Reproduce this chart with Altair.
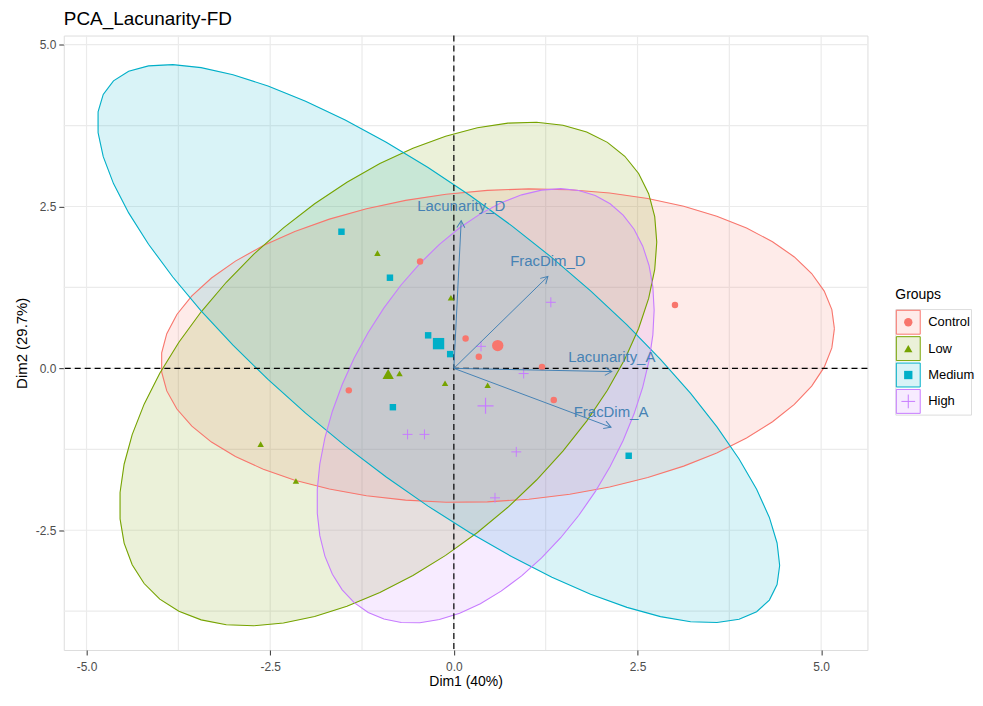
import numpy as np
import pandas as pd
import altair as alt

FONT = "Liberation Sans"

# ---------------- data ----------------
groups = ["Control", "Low", "Medium", "High"]
colors = ["#F8766D", "#76A300", "#00AFC8", "#C77CFF"]
shapes = ["circle", "triangle-up", "square", "M-1,0L1,0M0,-1L0,1"]

control_x = [-0.46, 0.16, 0.34, -1.43, 1.20, 1.36, 3.01]
control_y = [1.65, 0.46, 0.18, -0.34, 0.02, -0.49, 0.98]
low_x = [-1.04, -0.04, -0.74, -0.12, 0.46, -2.63, -2.15]
low_y = [1.78, 1.09, -0.08, -0.23, -0.26, -1.17, -1.74]
medium_x = [-1.53, -0.87, -0.35, -0.05, -0.83, 2.38]
medium_y = [2.11, 1.40, 0.51, 0.22, -0.60, -1.35]
high_x = [1.32, 0.37, 0.95, -0.63, -0.40, 0.85, 0.56]
high_y = [1.02, 0.34, -0.08, -1.02, -1.02, -1.29, -2.00]

var_names = ["Lacunarity_D", "FracDim_D", "Lacunarity_A", "FracDim_A"]
var_x = [0.10, 1.28, 2.15, 2.14]
var_y = [2.28, 1.42, -0.05, -0.91]

x_ticks = [-5.0, -2.5, 0.0, 2.5, 5.0]
y_ticks = [-2.5, 0.0, 2.5, 5.0]
x_grid = [-5.0, -3.75, -2.5, -1.25, 0.0, 1.25, 2.5, 3.75, 5.0]
y_grid = [-3.75, -2.5, -1.25, 0.0, 1.25, 2.5, 3.75, 5.0]
x_domain = [-5.31, 5.63]
y_domain = [-4.35, 5.14]

W, H = 807, 617
ELLIPSE_LEVEL = 0.95
FILL_ALPHA = 0.15

# ---------------- derived tables ----------------
group_xy = {
    "Control": (control_x, control_y),
    "Low": (low_x, low_y),
    "Medium": (medium_x, medium_y),
    "High": (high_x, high_y),
}

pts = pd.concat(
    [pd.DataFrame({"group": g, "x": xs, "y": ys}) for g, (xs, ys) in group_xy.items()],
    ignore_index=True,
)
means = pts.groupby("group", as_index=False)[["x", "y"]].mean()

outline_rows, fill_rows = [], []
for g, (xs, ys) in group_xy.items():
    P = np.column_stack([xs, ys])
    n = len(P)
    c = P.mean(axis=0)
    S = np.cov(P.T)
    dfd = n - 1
    fq = (dfd / 2.0) * ((1 - ELLIPSE_LEVEL) ** (-2.0 / dfd) - 1)  # qf(level, 2, n-1)
    r = np.sqrt(2 * fq)
    R = np.linalg.cholesky(S).T
    t = np.linspace(0, 2 * np.pi, 52)
    E = c + r * np.column_stack([np.cos(t), np.sin(t)]) @ R
    for i, (ex, ey) in enumerate(E):
        outline_rows.append({"group": g, "i": i, "x": ex, "y": ey})
    Si = np.linalg.inv(S)
    A, B, C = Si[0, 0], Si[0, 1], Si[1, 1]
    half = r * np.sqrt(S[0, 0])
    dx = half * np.cos(np.linspace(np.pi, 0, 160))
    disc = np.clip(B * B * dx * dx - C * (A * dx * dx - r * r), 0, None)
    up = (-B * dx + np.sqrt(disc)) / C
    lo = (-B * dx - np.sqrt(disc)) / C
    for a, u, l in zip(dx, up, lo):
        fill_rows.append({"group": g, "x": c[0] + a, "y_hi": c[1] + u, "y_lo": c[1] + l})

outline = pd.DataFrame(outline_rows)
fills = pd.DataFrame(fill_rows)
vars_df = pd.DataFrame({"name": var_names, "x": var_x, "y": var_y})

sx = W / (x_domain[1] - x_domain[0])
sy = H / (y_domain[1] - y_domain[0])

# ---------------- scales / axes ----------------
xscale = alt.Scale(domain=x_domain, nice=False, zero=False)
yscale = alt.Scale(domain=y_domain, nice=False, zero=False)
minus_fix = "replace(format(datum.value, '.1f'), '\u2212', '-')"
xaxis = alt.Axis(values=x_ticks, labelExpr=minus_fix, grid=False, domain=False,
                 tickSize=5, tickColor="#333333", labelColor="#4D4D4D", labelFontSize=12,
                 labelPadding=7, title="Dim1 (40%)", titleFontSize=14, titlePadding=2,
                 titleFontWeight="normal", titleColor="#000000", labelFont=FONT, titleFont=FONT)
yaxis = alt.Axis(values=y_ticks, labelExpr=minus_fix, grid=False, domain=False,
                 tickSize=5, tickColor="#333333", labelColor="#4D4D4D", labelFontSize=12,
                 labelPadding=3, title="Dim2 (29.7%)", titleFontSize=15, titlePadding=6,
                 titleFontWeight="normal", titleColor="#000000", labelFont=FONT, titleFont=FONT)


def X(f):
    return alt.X(f, type="quantitative", scale=xscale, axis=xaxis)


def Y(f):
    return alt.Y(f, type="quantitative", scale=yscale, axis=yaxis)


cscale = alt.Scale(domain=groups, range=colors)
shscale = alt.Scale(domain=groups, range=shapes)
col = alt.Color("group:N", scale=cscale, legend=None)
shp = alt.Shape("group:N", scale=shscale, legend=None)

grid_x = alt.Chart(pd.DataFrame({"v": x_grid})).mark_rule(color="#EBEBEB", strokeWidth=1.2).encode(x=X("v"))
grid_y = alt.Chart(pd.DataFrame({"v": y_grid})).mark_rule(color="#EBEBEB", strokeWidth=1.2).encode(y=Y("v"))

areas = alt.Chart(fills).mark_area(fillOpacity=FILL_ALPHA, strokeWidth=0).encode(
    x=X("x"), y=Y("y_hi"), y2="y_lo:Q", color=col, detail="group:N")
lines = alt.Chart(outline).mark_line(strokeWidth=1.1).encode(
    x=X("x"), y=Y("y"), color=col, detail="group:N", order="i:Q")

zero = pd.DataFrame({"v": [0.0]})
zero_x = alt.Chart(zero).mark_rule(color="black", strokeWidth=1.2, strokeDash=[6, 4]).encode(x=X("v"))
zero_y = alt.Chart(zero).mark_rule(color="black", strokeWidth=1.2, strokeDash=[6, 4]).encode(y=Y("v"))

pts_f = alt.Chart(pts).transform_filter(alt.datum.group != "High").mark_point(
    filled=True, opacity=1, size=42).encode(x=X("x"), y=Y("y"), color=col, shape=shp)
pts_c = alt.Chart(pts).transform_filter(alt.datum.group == "High").mark_point(
    filled=False, opacity=1, size=100, strokeWidth=1).encode(x=X("x"), y=Y("y"), color=col, shape=shp)
mean_f = alt.Chart(means).transform_filter(alt.datum.group != "High").mark_point(
    filled=True, opacity=1, size=130).encode(x=X("x"), y=Y("y"), color=col, shape=shp)
mean_c = alt.Chart(means).transform_filter(alt.datum.group == "High").mark_point(
    filled=False, opacity=1, size=260, strokeWidth=1.2).encode(x=X("x"), y=Y("y"), color=col, shape=shp)

arrows = alt.Chart(vars_df).transform_calculate(x0="0", y0="0").mark_rule(
    color="#4682B4", strokeWidth=1).encode(x=X("x0"), y=Y("y0"), x2="x:Q", y2="y:Q")
heads = alt.Chart(vars_df).transform_calculate(
    ang=f"(atan2(datum.x*{sx}, datum.y*{sy})*180/PI + 360) % 360"
).mark_point(shape="M-0.5,0.866L0,0L0.5,0.866", filled=False, color="#4682B4",
             size=256, strokeWidth=1, opacity=1).encode(
    x=X("x"), y=Y("y"), angle=alt.Angle("ang:Q", scale=None))
labels = alt.Chart(vars_df).mark_text(dy=-15, baseline="middle", fontSize=15, font=FONT,
                                      color="#4682B4").encode(x=X("x"), y=Y("y"), text="name:N")

main = alt.layer(grid_x, grid_y, areas, lines, zero_x, zero_y, pts_f, pts_c, mean_f, mean_c,
                 arrows, heads, labels).properties(
    width=W, height=H,
    title=alt.Title("PCA_Lacunarity-FD", anchor="start", frame="group", fontSize=19,
                    font=FONT, fontWeight="normal", color="#000000", offset=6))

# ---------------- custom legend ----------------
leg_df = pd.DataFrame({"group": groups})
ly = alt.Y("group:N", sort=groups, axis=None, scale=alt.Scale(domain=groups))
box = alt.Chart(leg_df).mark_square(size=576, fillOpacity=FILL_ALPHA, strokeWidth=1, strokeOpacity=1).encode(
    x=alt.value(13), y=ly,
    fill=alt.Fill("group:N", scale=cscale, legend=None),
    stroke=alt.Stroke("group:N", scale=cscale, legend=None))
sym_f = alt.Chart(leg_df).transform_filter(alt.datum.group != "High").mark_point(
    filled=True, opacity=1, size=70).encode(x=alt.value(13), y=ly, color=col, shape=shp)
sym_c = alt.Chart(leg_df).transform_filter(alt.datum.group == "High").mark_point(
    filled=False, opacity=1, size=190, strokeWidth=1).encode(x=alt.value(13), y=ly, color=col, shape=shp)
txt = alt.Chart(leg_df).mark_text(align="left", baseline="middle", fontSize=13, font=FONT,
                                  color="#000000").encode(x=alt.value(33), y=ly, text="group:N")
legend = alt.layer(box, sym_f, sym_c, txt).properties(
    width=76, height=106,
    title=alt.Title("Groups", anchor="start", frame="group", fontSize=14, font=FONT,
                    fontWeight="normal", color="#000000", offset=6))

chart = alt.hconcat(main, legend, spacing=24, center=True).properties(
    padding={"left": 5, "top": 0, "right": 0, "bottom": 0}
).configure_view(stroke=None).configure(background="white")

chart.save("out.html", embed_options={"renderer": "svg", "actions": False})
